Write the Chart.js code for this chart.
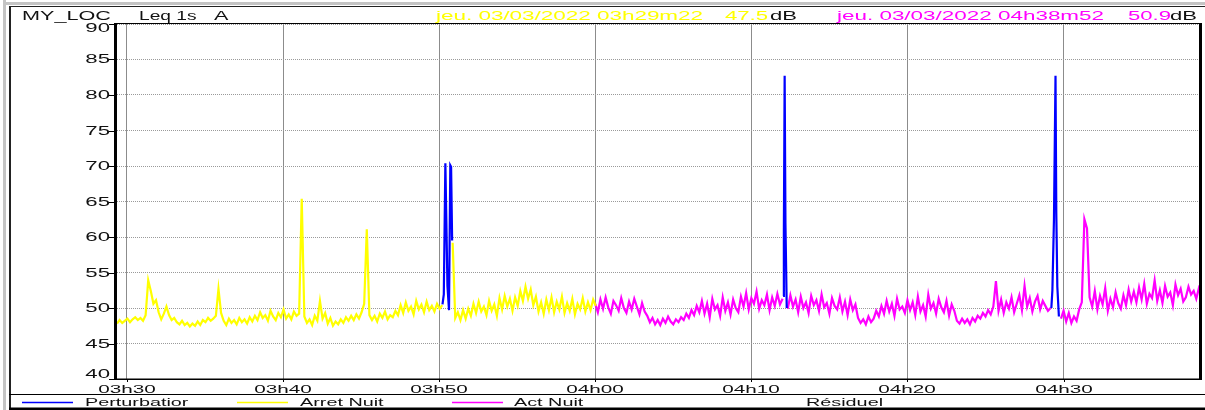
<!DOCTYPE html>
<html>
<head>
<meta charset="utf-8">
<script src="https://cdn.jsdelivr.net/npm/chart.js@4.4.1/dist/chart.umd.min.js"></script>
<style>
  html, body { margin: 0; padding: 0; background: #fff; }
  #wrap { width: 1205px; height: 410px; position: relative; }
</style>
</head>
<body>
<div id="wrap"><canvas id="chart"></canvas></div>
<script>
// --- Data (times are hh:mm:ss, levels in dB) ---
const startTime = '03:29:22';
const endTime = '04:38:52';
const sampleStep = 10; // seconds between samples of the two base series

const seriesLabels = ['Perturbatior', 'Arret Nuit', 'Act Nuit', 'Résiduel'];
const seriesColors = ['#0000ff', '#ffff00', '#ff00ff', '#ffffff'];

const arretStart = '03:29:22';
const arretValues = [
  47.8, 48.3, 47.9, 48.2, 48.5, 48.0, 48.4, 48.7, 48.3, 48.6, 48.2,
  49.0, 53.9, 52.4, 50.6, 51.1, 49.4,
  48.4, 49.2, 50.2, 49.0, 48.3,
  48.6, 48.0, 47.7, 48.2, 47.6, 47.9, 47.4, 47.8, 47.5, 48.1, 47.6, 48.3,
  48.0, 48.6, 48.2, 48.5,
  48.9, 52.7, 49.3,
  48.2, 47.6, 48.5, 47.9, 48.3, 47.7, 48.6, 48.0, 48.4, 47.8,
  48.7, 48.1, 48.9, 48.3, 49.4, 48.6, 49.0, 48.2, 49.6, 48.8,
  48.3, 49.3, 48.7, 49.8, 48.5, 49.1, 48.4, 49.5, 48.9, 49.2,
  65.4,
  48.8, 47.9, 48.4, 47.6, 48.9, 48.2, 51.0, 48.5, 49.3, 47.8,
  48.6, 47.5, 48.1, 47.7, 48.4, 47.9, 48.7, 48.2, 48.9, 48.3,
  49.1, 48.5, 49.4,
  50.6, 61.1, 49.0,
  48.3, 48.9, 48.1, 49.2, 48.6, 49.5, 48.4, 49.0, 48.7, 49.6,
  49.0, 50.4, 49.3, 50.8, 49.6, 50.2, 49.1, 51.0, 49.8, 50.5,
  49.4, 50.9, 49.7, 50.3, 49.5, 50.6, 49.9,
  50.4, null, null, null, 59.2,
  48.6, 49.4, 48.3, 49.7, 48.5, 49.9, 48.9, 50.6, 49.3, 50.9,
  49.5, 50.2, 49.0, 51.0, 49.6, 50.5, 48.9, 51.4, 49.8, 51.7,
  50.2, 51.3, 49.6, 51.5, 50.3, 52.4, 51.0, 53.0, 51.3, 52.6,
  50.4, 51.6, 49.5, 50.8, 49.2, 51.2, 49.7, 51.5, 49.4, 50.9,
  49.8, 51.6, 49.3, 50.7, 49.6, 51.3, 49.1, 50.6, 49.8, 51.4,
  49.5, 50.8, 49.7, 51.2, 50.3
];

const actStart = '04:00:00';
const actValues = [
  50.6, 49.4, 51.2, 49.9, 51.5, 50.1, 49.2, 51.0, 50.4, 49.6,
  51.4, 50.0, 49.3, 50.9, 49.8, 51.3, 50.2, 49.1, 50.7, 49.5,
  48.9, 48.0, 48.6, 47.7, 48.3, 47.6, 48.5, 47.9, 48.8, 48.1,
  47.7, 48.4, 48.0, 48.7,
  48.3, 49.2, 48.6, 49.7, 49.0, 50.3, 49.4,
  51.0, 49.2, 50.6, 48.7, 51.3, 49.8, 50.4, 48.9, 51.5, 49.6,
  50.8, 49.1, 51.2, 50.0, 49.4,
  51.6, 50.2, 52.1, 49.8, 51.4, 50.6, 52.3, 49.9, 51.1, 50.4,
  51.9, 49.7, 51.5, 50.3, 52.0, 50.5, 51.3,
  null,
  49.9, 51.8, 50.2, 51.2, 49.4, 51.6, 50.0, 50.8, 49.3, 51.7,
  50.4, 51.1, 49.6, 51.9, 50.1, 50.7, 49.2, 51.4, 50.3, 49.8,
  51.5, 49.5, 50.9, 49.0, 51.2, 49.7, 50.5,
  48.6, 47.9, 48.4, 47.7, 48.8, 48.0, 48.5,
  49.6, 48.8, 50.3, 49.2, 51.0, 49.5, 50.6, 48.9, 51.3, 49.8,
  50.2, 49.3, 51.1, 49.7,
  50.8, 49.0, 51.6, 49.5, 50.4, 48.8, 51.9, 49.9, 50.7, 49.2,
  51.3, 50.1, 49.4, 51.0, 48.9, 50.5, 49.6,
  48.2, 47.8, 48.5, 47.9, 48.4, 47.7, 48.6, 48.1, 48.9,
  48.5, 49.3, 48.8, 49.7, 49.1, 50.2,
  53.8,
  49.6, 51.2, 49.3, 50.8, 49.9, 51.5, 49.4, 50.6, 51.8, 49.7,
  53.1,
  50.2, 51.4, 49.5, 50.9, 51.7, 49.8, 51.0, 50.3, 49.6, 50.0,
  null, null, null,
  48.5, 49.6, 48.1, 49.3, 47.9, 48.8, 48.2, 49.8, 50.8,
  62.5, 61.2,
  51.5, 50.2, 52.4, 49.8, 51.7, 50.5, 52.8, 49.6, 51.3, 50.1,
  52.2, 50.7, 49.9, 51.8, 50.4, 52.6, 50.9,
  52.3, 50.8, 52.9, 51.2, 53.4, 50.6, 52.0, 51.4,
  53.9,
  51.0, 52.5, 50.7, 53.1, 51.6, 52.2, 50.4, 53.3, 51.8, 52.7,
  50.9, 51.5, 53.0, 51.9, 52.4, 51.3, 52.8, 52.0
];

const perturbTimes = [
  '03:50:13', '03:50:18', '03:50:24', '03:50:32', '03:50:38', '03:50:43', '03:50:46', '03:50:50',
  '04:00:00',
  '04:12:02', '04:12:05', '04:12:08', '04:12:11', '04:12:16',
  '04:20:00',
  '04:29:13', '04:29:17', '04:29:23', '04:29:29', '04:29:32', '04:29:36', '04:29:42'
];
const perturbValues = [
  50.5, 51.9, 70.4, 53.1, 49.7, 70.1, 69.9, 59.5,
  null,
  51.7, 61.0, 82.7, 62.0, 50.0,
  null,
  50.0, 52.5, 62.4, 82.7, 63.4, 53.0, 48.8
];

const xTickTimes = ['03:30', '03:40', '03:50', '04:00', '04:10', '04:20', '04:30'];
const yTickValues = [40, 45, 50, 55, 60, 65, 70, 75, 80, 85, 90];

const headerTitle = ['MY_LOC', 'Leq 1s', 'A'];
const cursorLeft = ['jeu. 03/03/2022 03h29m22', '47.5'];
const cursorRight = ['jeu. 03/03/2022 04h38m52', '50.9'];
const unitLabel = 'dB';

// --- Helpers ---
function toMin(s) {
  const p = s.split(':').map(Number);
  return p[0] * 60 + p[1] + (p[2] || 0) / 60;
}
function sampled(start, values) {
  const t0 = toMin(start);
  return values.map((v, i) => ({ x: t0 + i * sampleStep / 60, y: v }));
}

const FONT = '"Liberation Sans", Arial, sans-serif';
function stretchText(ctx, text, x, y, size, sx, color, align, baseline) {
  ctx.save();
  ctx.font = size + 'px ' + FONT;
  ctx.fillStyle = color;
  ctx.textAlign = align || 'left';
  ctx.textBaseline = baseline || 'alphabetic';
  ctx.translate(x, y);
  ctx.scale(sx, 1);
  ctx.fillText(text, 0, 0);
  ctx.restore();
}

// --- Frame, labels, header and legend ---
const framePlugin = {
  id: 'frame',
  afterDraw(chart) {
    const ctx = chart.ctx;
    const area = chart.chartArea;
    const xs = chart.scales.x, ys = chart.scales.y;

    // outer window lines
    ctx.save();
    ctx.fillStyle = '#c4c4c4';
    ctx.fillRect(3, 0, 3, 410);
    ctx.fillRect(3, 2, 1202, 3);
    ctx.fillStyle = '#222';
    ctx.fillRect(9, 6, 2, 404);
    ctx.fillRect(9, 6, 1196, 1);

    // plot borders
    ctx.fillStyle = '#000';
    ctx.fillRect(area.left - 3, area.top - 1, 3, area.bottom - area.top + 2);
    ctx.fillRect(area.right - 3, area.top - 1, 3, area.bottom - area.top + 2);
    ctx.fillRect(area.left, area.top - 1, area.right - area.left, 1);
    ctx.fillRect(area.left - 3, area.bottom - 0.5, area.right - area.left + 3, 1.5);

    // y ticks and labels
    yTickValues.forEach(v => {
      const y = Math.round(ys.getPixelForValue(v));
      ctx.fillRect(area.left - 8, y, 5, 1);
      let ly = y + 1;
      if (v === ys.max) ly = y + 4.5;
      if (v === ys.min) ly = y - 4.5;
      stretchText(ctx, String(v), area.left - 7, ly, 12, 1.85, '#111', 'right', 'middle');
    });

    // x ticks and labels
    xTickTimes.forEach(t => {
      const x = Math.round(xs.getPixelForValue(toMin(t)));
      ctx.fillRect(x, area.bottom, 1, 3);
      stretchText(ctx, t.replace(':', 'h'), x, area.bottom + 14, 11.5, 1.8, '#111', 'center');
    });

    // header
    stretchText(ctx, headerTitle[0], 22, 19.5, 12, 1.8, '#111');
    stretchText(ctx, headerTitle[1], 139, 19.5, 12, 1.6, '#111');
    stretchText(ctx, headerTitle[2], 214, 19.5, 12, 1.8, '#111');
    stretchText(ctx, cursorLeft[0], 436, 19.5, 12, 1.87, seriesColors[1]);
    stretchText(ctx, cursorLeft[1], 725, 19.5, 12, 1.84, seriesColors[1]);
    stretchText(ctx, unitLabel, 770, 19.5, 12, 1.84, '#111');
    stretchText(ctx, cursorRight[0], 837, 19.5, 12, 1.87, seriesColors[2]);
    stretchText(ctx, cursorRight[1], 1128, 19.5, 12, 1.84, seriesColors[2]);
    stretchText(ctx, unitLabel, 1170, 19.5, 12, 1.84, '#111');

    // legend box
    ctx.fillStyle = '#000';
    ctx.fillRect(9, 394, 1196, 1);
    ctx.fillRect(9, 407.5, 1196, 2.5);
    const lineX = [22, 237, 452, 667];
    const textX = [85, 300, 514, 806];
    chart.data.datasets.forEach((ds, i) => {
      ctx.strokeStyle = ds.borderColor;
      ctx.lineWidth = 1.5;
      ctx.beginPath();
      ctx.moveTo(lineX[i], 402.5);
      ctx.lineTo(lineX[i] + 51, 402.5);
      ctx.stroke();
      stretchText(ctx, ds.label, textX[i], 406, 11, 1.8, '#111');
    });
    ctx.restore();
  }
};

const series = [
  perturbTimes.map((t, i) => ({ x: toMin(t), y: perturbValues[i] })),
  sampled(arretStart, arretValues),
  sampled(actStart, actValues),
  []
];

new Chart(document.getElementById('chart'), {
  type: 'line',
  data: {
    datasets: series.map((data, i) => ({
      label: seriesLabels[i],
      data: data,
      borderColor: seriesColors[i],
      backgroundColor: seriesColors[i],
      borderWidth: 2.2,
      pointRadius: 0,
      tension: 0,
      spanGaps: false,
      fill: false
    }))
  },
  options: {
    responsive: true,
    maintainAspectRatio: false,
    animation: false,
    devicePixelRatio: 1,
    layout: { padding: { left: 117, top: 24, right: 3, bottom: 31 } },
    plugins: { legend: { display: false }, tooltip: { enabled: false } },
    scales: {
      x: {
        type: 'linear',
        min: toMin(startTime),
        max: toMin(endTime),
        afterBuildTicks: axis => { axis.ticks = xTickTimes.map(t => ({ value: toMin(t) })); },
        ticks: { display: false },
        grid: { color: '#8c8c8c', lineWidth: 1, drawTicks: false },
        border: { display: false }
      },
      y: {
        min: 40,
        max: 90,
        afterBuildTicks: axis => { axis.ticks = yTickValues.map(v => ({ value: v })); },
        ticks: { display: false },
        grid: { color: '#9a9a9a', lineWidth: 1, drawTicks: false },
        border: { display: false, dash: [1, 1] }
      }
    }
  },
  plugins: [framePlugin]
});
</script>
</body>
</html>
